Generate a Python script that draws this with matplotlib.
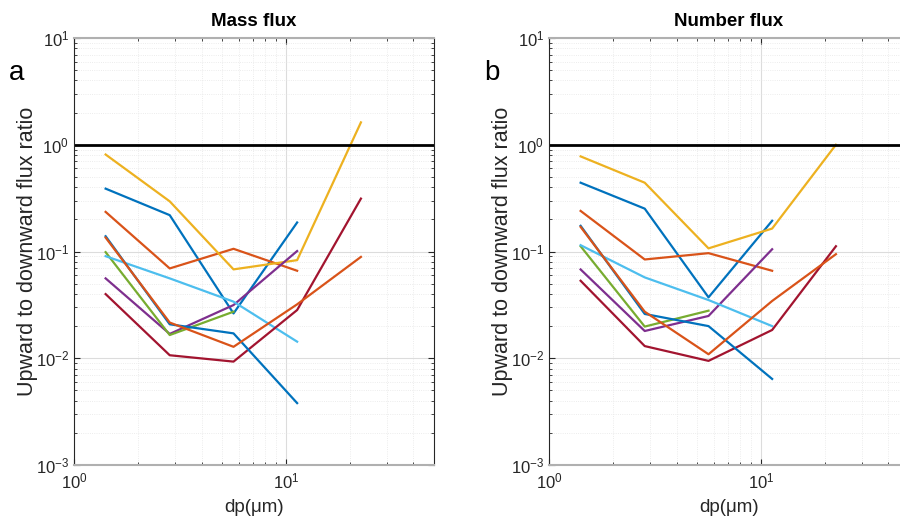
import numpy as np
import matplotlib
matplotlib.use("Agg")
import matplotlib.pyplot as plt

plt.rcParams["font.family"] = ["Liberation Sans", "DejaVu Sans"]

# particle diameter bins (um)
dp = [1.41, 2.83, 5.66, 11.3, 22.6]

# MATLAB default colour order
C_BLUE, C_ORANGE, C_YELLOW = "#0072BD", "#D95319", "#EDB120"
C_PURPLE, C_GREEN, C_LBLUE, C_RED = "#7E2F8E", "#77AC30", "#4DBEEE", "#A2142F"

# mass flux ratios (panel a)
mass_blue1 = [0.388, 0.219, 0.0263, 0.187]
mass_orange1 = [0.235, 0.0694, 0.106, 0.066]
mass_yellow = [0.81, 0.295, 0.068, 0.083, 1.62]
mass_purple = [0.056, 0.0169, 0.0315, 0.101]
mass_green = [0.0986, 0.0165, 0.0273]
mass_lblue = [0.0904, 0.056, 0.0339, 0.0143]
mass_red = [0.0399, 0.01067, 0.0093, 0.0283, 0.313]
mass_blue2 = [0.139, 0.0208, 0.0171, 0.0038]
mass_orange2 = [0.135, 0.0216, 0.0128, 0.032, 0.089]

# number flux ratios (panel b)
num_blue1 = [0.441, 0.252, 0.0372, 0.194]
num_orange1 = [0.240, 0.0842, 0.0965, 0.066]
num_yellow = [0.778, 0.441, 0.107, 0.164, 1.0]
num_purple = [0.0679, 0.0180, 0.0249, 0.105]
num_green = [0.112, 0.0198, 0.0279]
num_lblue = [0.1146, 0.0572, 0.0351, 0.020]
num_red = [0.0532, 0.0130, 0.00945, 0.0184, 0.112]
num_blue2 = [0.174, 0.026, 0.020, 0.0064]
num_orange2 = [0.170, 0.0273, 0.0109, 0.0344, 0.0944]

mass = [(mass_blue1, C_BLUE), (mass_orange1, C_ORANGE), (mass_yellow, C_YELLOW),
        (mass_purple, C_PURPLE), (mass_green, C_GREEN), (mass_lblue, C_LBLUE),
        (mass_red, C_RED), (mass_blue2, C_BLUE), (mass_orange2, C_ORANGE)]
num = [(num_blue1, C_BLUE), (num_orange1, C_ORANGE), (num_yellow, C_YELLOW),
       (num_purple, C_PURPLE), (num_green, C_GREEN), (num_lblue, C_LBLUE),
       (num_red, C_RED), (num_blue2, C_BLUE), (num_orange2, C_ORANGE)]

fig = plt.figure(figsize=(9, 5.21), dpi=100)
W, H = 900, 521


def panel(rect, series, title, letter):
    l, t, r, b = rect
    ax = fig.add_axes([l / W, 1 - b / H, (r - l) / W, (b - t) / H])
    ax.set_xscale("log"); ax.set_yscale("log")
    for ys, c in series:
        ax.plot(dp[:len(ys)], ys, color=c, lw=1.6)
    ax.axhline(1, color="k", lw=2)
    ax.set_xlim(1, 50); ax.set_ylim(1e-3, 10)
    ax.grid(True, which="major", color="#dcdcdc", lw=0.8)
    ax.grid(True, which="minor", color="#e6e6e6", lw=0.6, ls=":")
    ax.set_axisbelow(True)
    ax.tick_params(which="both", direction="in", top=True, right=True, labelsize=12, colors="#262626")
    ax.tick_params(which="major", length=4); ax.tick_params(which="minor", length=2.5)
    ax.tick_params(axis="x", pad=5)
    for s in ["left", "right"]:
        ax.spines[s].set_color("#262626")
    for s in ["top", "bottom"]:
        ax.spines[s].set_color("#b0b0b0"); ax.spines[s].set_linewidth(1.5)
    ax.set_xlabel("dp(μm)", fontsize=13.5, color="#262626")
    ax.xaxis.set_label_coords(0.5, -0.08)
    ax.set_ylabel("Upward to downward flux ratio", fontsize=15.5, color="#262626")
    ax.yaxis.set_label_coords(-0.1, 0.5)
    ax.set_title(title, fontsize=13.5, fontweight="bold", pad=9)
    ax.text(-0.16, 0.918, letter, transform=ax.transAxes, fontsize=20, ha="center", va="center")
    return ax


panel((74, 38, 434, 465), mass, "Mass flux", "a")
panel((549, 38, 909, 465), num, "Number flux", "b")

fig.savefig("out.png", dpi=100)
